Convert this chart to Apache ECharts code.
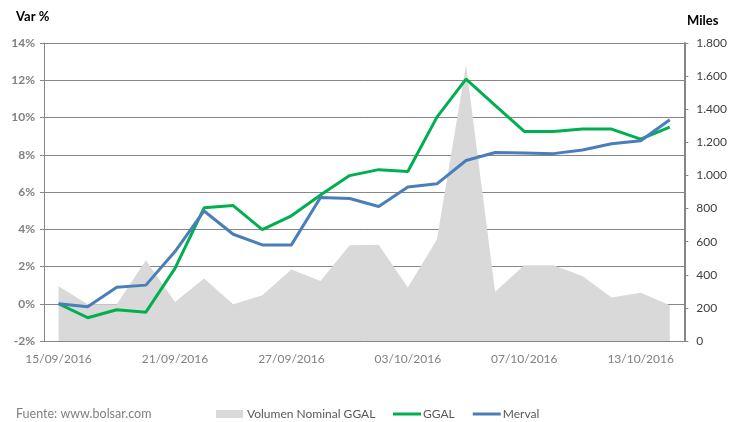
<!DOCTYPE html>
<html>
<head>
<meta charset="utf-8">
<script src="https://cdn.jsdelivr.net/npm/echarts@6/dist/echarts.min.js"></script>
<style>
  html, body { margin: 0; padding: 0; background: #fff; }
  #chart { width: 730px; height: 422px; }
</style>
</head>
<body>
<div id="chart"></div>
<script>
// dias habiles
const dates = [
  '15/09/2016', '16/09/2016', '19/09/2016', '20/09/2016', '21/09/2016', '22/09/2016',
  '23/09/2016', '26/09/2016', '27/09/2016', '28/09/2016', '29/09/2016', '30/09/2016',
  '03/10/2016', '04/10/2016', '05/10/2016', '06/10/2016', '07/10/2016', '10/10/2016',
  '11/10/2016', '12/10/2016', '13/10/2016', '14/10/2016'
];
// variacion acumulada %
const ggal = [0.0, -0.75, -0.32, -0.45, 1.9, 5.15, 5.27, 3.98, 4.72, 5.84, 6.88, 7.2,
  7.1, 10.02, 12.06, 10.65, 9.25, 9.25, 9.38, 9.38, 8.84, 9.48];
const merval = [0.0, -0.16, 0.88, 1.0, 2.8, 4.98, 3.73, 3.16, 3.16, 5.7, 5.65, 5.22,
  6.27, 6.44, 7.69, 8.12, 8.09, 8.06, 8.26, 8.59, 8.75, 9.88];
// volumen nominal (miles)
const volumen = [331, 222, 222, 488, 236, 378, 222, 277, 432, 363, 579, 581,
  323, 613, 1668, 297, 458, 458, 392, 262, 291, 216];

const font = 'Lato, "Open Sans", sans-serif';

const chart = echarts.init(document.getElementById('chart'));

const option = {
  animation: false,
  grid: { left: 44, right: 44, top: 43, bottom: 81 },
  legend: [
    {
      left: 211, top: 403,
      itemWidth: 27, itemHeight: 8, itemGap: 0,
      icon: 'rect',
      data: ['Volumen Nominal GGAL'],
      textStyle: { fontFamily: font, fontSize: 12, color: '#595959', padding: [0, 0, 0, -1] }
    },
    {
      left: 388, top: 403,
      itemWidth: 28, itemHeight: 3, itemGap: 18,
      icon: 'rect',
      data: ['GGAL', 'Merval'],
      textStyle: { fontFamily: font, fontSize: 12, color: '#595959', padding: [0, 0, 0, -3] }
    }
  ],
  graphic: [
    { type: 'text', left: 16, top: 10, style: { text: 'Var %', font: 'bold 13px ' + font, fill: '#000' } },
    { type: 'text', left: 687, top: 14, style: { text: 'Miles', font: 'bold 13px ' + font, fill: '#000' } },
    { type: 'text', left: 16, top: 407, style: { text: 'Fuente: www.bolsar.com', font: '12.5px ' + font, fill: '#808080' } }
  ],
  xAxis: {
    type: 'category',
    data: dates,
    boundaryGap: true,
    axisLine: { show: false },
    axisTick: { show: false },
    axisLabel: {
      interval: 3,
      margin: 12,
      fontFamily: font, fontSize: 12, color: '#808080'
    }
  },
  yAxis: [
    {
      type: 'value',
      min: -2, max: 14, interval: 2,
      axisLine: { show: true, lineStyle: { color: '#868686', width: 1 } },
      axisTick: { show: true, length: 4, lineStyle: { color: '#868686' } },
      splitLine: { lineStyle: { color: '#868686', width: 1 } },
      axisLabel: {
        margin: 9,
        formatter: '{value}%',
        fontFamily: font, fontSize: 12, fontWeight: 'bold', color: '#808080'
      }
    },
    {
      type: 'value',
      min: 0, max: 1800, interval: 200,
      position: 'right',
      axisLine: { show: true, lineStyle: { color: '#868686', width: 2 } },
      axisTick: { show: true, length: 4, lineStyle: { color: '#868686' } },
      splitLine: { show: false },
      axisLabel: {
        margin: 12,
        formatter: v => v.toLocaleString('de-DE'),
        fontFamily: font, fontSize: 12, color: '#404040'
      }
    }
  ],
  series: [
    {
      name: 'Volumen Nominal GGAL',
      type: 'line',
      yAxisIndex: 1,
      data: volumen,
      symbol: 'none',
      lineStyle: { width: 0 },
      itemStyle: { color: '#d9d9d9' },
      areaStyle: { color: '#d9d9d9', opacity: 1 },
      z: 1
    },
    {
      name: 'GGAL',
      type: 'line',
      data: ggal,
      symbol: 'none',
      lineStyle: { color: '#00b050', width: 3 },
      itemStyle: { color: '#00b050' },
      z: 3
    },
    {
      name: 'Merval',
      type: 'line',
      data: merval,
      symbol: 'none',
      lineStyle: { color: '#4a7ebb', width: 3 },
      itemStyle: { color: '#4a7ebb' },
      z: 4
    }
  ]
};

chart.setOption(option);
</script>
</body>
</html>
